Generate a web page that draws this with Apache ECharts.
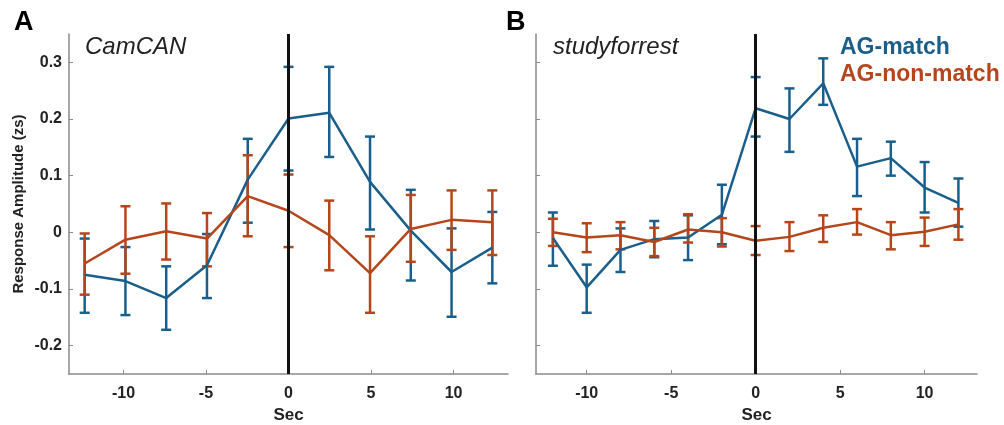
<!DOCTYPE html>
<html>
<head>
<meta charset="utf-8">
<script src="https://cdn.jsdelivr.net/npm/echarts@6/dist/echarts.min.js"></script>
<style>
html,body{margin:0;padding:0;background:#fff;}
#chart{width:1004px;height:425px;}
</style>
</head>
<body>
<div id="chart"></div>
<script>
/* CamCAN (TR 2.47 s) */
var timesA = [-12.35, -9.88, -7.41, -4.94, -2.47, 0, 2.47, 4.94, 7.41, 9.88, 12.35];
var matchA   = [-0.075, -0.086, -0.116, -0.058, 0.093, 0.201, 0.211, 0.089, 0.003, -0.070, -0.027];
var matchAHi = [-0.011, -0.026, -0.060, -0.003, 0.165, 0.292, 0.292, 0.169, 0.075, 0.007, 0.036];
var matchALo = [-0.142, -0.146, -0.172, -0.116, 0.017, 0.109, 0.133, 0.005, -0.085, -0.149, -0.090];
var nonA   = [-0.055, -0.013, 0.002, -0.011, 0.064, 0.038, -0.005, -0.072, 0.006, 0.022, 0.018];
var nonAHi = [-0.002, 0.046, 0.051, 0.034, 0.136, 0.102, 0.056, -0.007, 0.066, 0.074, 0.074];
var nonALo = [-0.110, -0.073, -0.048, -0.060, -0.007, -0.026, -0.067, -0.142, -0.052, -0.031, -0.040];

/* studyforrest (TR 2 s) */
var timesB = [-12, -10, -8, -6, -4, -2, 0, 2, 4, 6, 8, 10, 12];
var matchB   = [-0.010, -0.097, -0.031, -0.012, -0.009, 0.031, 0.219, 0.200, 0.263, 0.116, 0.131, 0.079, 0.052];
var matchBHi = [0.035, -0.057, 0.007, 0.020, 0.030, 0.084, 0.274, 0.254, 0.307, 0.165, 0.160, 0.124, 0.095];
var matchBLo = [-0.059, -0.142, -0.070, -0.044, -0.049, -0.021, 0.169, 0.142, 0.225, 0.064, 0.100, 0.035, 0.010];
var nonB   = [0.000, -0.009, -0.005, -0.017, 0.005, 0.000, -0.015, -0.008, 0.008, 0.018, -0.005, 0.001, 0.014];
var nonBHi = [0.024, 0.016, 0.018, 0.008, 0.032, 0.025, 0.011, 0.018, 0.030, 0.041, 0.018, 0.026, 0.041];
var nonBLo = [-0.024, -0.035, -0.030, -0.042, -0.018, -0.025, -0.040, -0.033, -0.017, -0.004, -0.030, -0.024, -0.013];

var yTicks = [-0.2, -0.1, 0, 0.1, 0.2, 0.3];
var xTicks = [-10, -5, 0, 5, 10];

var BLUE = '#1a5f8c';
var ORANGE = '#b5461b';
var FONT = 'Liberation Sans, Arial, Helvetica, sans-serif';

function zip(xs, ys) {
    return xs.map(function (x, i) { return [x, ys[i]]; });
}
function zip3(xs, lo, hi) {
    return xs.map(function (x, i) { return [x, lo[i], hi[i]]; });
}

// error bar with caps
function renderErr(params, api) {
    var x = api.value(0);
    var lo = api.coord([x, api.value(1)]);
    var hi = api.coord([x, api.value(2)]);
    var cap = 5;
    var st = { stroke: api.visual('color'), lineWidth: 2.5 };
    return {
        type: 'group',
        children: [
            { type: 'line', shape: { x1: lo[0], y1: lo[1], x2: hi[0], y2: hi[1] }, style: st },
            { type: 'line', shape: { x1: hi[0] - cap, y1: hi[1], x2: hi[0] + cap, y2: hi[1] }, style: st },
            { type: 'line', shape: { x1: lo[0] - cap, y1: lo[1], x2: lo[0] + cap, y2: lo[1] }, style: st }
        ]
    };
}

function xAxisOf(idx, min, max) {
    return {
        type: 'value', gridIndex: idx, min: min, max: max,
        name: 'Sec', nameLocation: 'middle', nameGap: 33,
        nameTextStyle: { fontFamily: FONT, fontWeight: 'bold', fontSize: 17, color: '#222' },
        axisLine: { onZero: false, lineStyle: { color: '#8a8a8a', width: 1.5 } },
        axisTick: { inside: true, length: 4, customValues: xTicks, lineStyle: { color: '#8a8a8a' } },
        axisLabel: { customValues: xTicks, margin: 12, fontFamily: FONT, fontWeight: 'bold', fontSize: 16, color: '#222' },
        splitLine: { show: false }
    };
}
function yAxisOf(idx, showLabel) {
    return {
        type: 'value', gridIndex: idx, min: -0.25, max: 0.35,
        name: showLabel ? 'Response Amplitude (zs)' : '',
        nameLocation: 'middle', nameGap: 43,
        nameTextStyle: { fontFamily: FONT, fontWeight: 'bold', fontSize: 15, color: '#222' },
        axisLine: { onZero: false, lineStyle: { color: '#8a8a8a', width: 1.5 } },
        axisTick: { inside: true, length: 4, customValues: yTicks, lineStyle: { color: '#8a8a8a' } },
        axisLabel: { show: showLabel, customValues: yTicks, margin: 7, fontFamily: FONT, fontWeight: 'bold', fontSize: 16, color: '#222' },
        splitLine: { show: false }
    };
}

function lineSeries(name, idx, xs, ys, color) {
    return {
        name: name, type: 'line', xAxisIndex: idx, yAxisIndex: idx,
        data: zip(xs, ys), symbol: 'none', z: 4,
        lineStyle: { color: color, width: 2.5 }, itemStyle: { color: color }
    };
}
function errSeries(name, idx, xs, lo, hi, color) {
    return {
        name: name, type: 'custom', xAxisIndex: idx, yAxisIndex: idx,
        data: zip3(xs, lo, hi), renderItem: renderErr, z: 3,
        itemStyle: { color: color }, encode: { x: 0, y: [1, 2] }
    };
}
function zeroLine(idx) {
    return {
        type: 'line', xAxisIndex: idx, yAxisIndex: idx, data: [], z: 1,
        markLine: {
            silent: true, symbol: 'none', label: { show: false },
            lineStyle: { color: '#111', width: 3, type: 'solid' },
            data: [{ xAxis: 0 }]
        }
    };
}

var option = {
    animation: false,
    backgroundColor: '#fff',
    grid: [
        { left: 69, right: 496, top: 34, bottom: 51, outerBoundsMode: 'none' },
        { left: 536, right: 27, top: 34, bottom: 51, outerBoundsMode: 'none' }
    ],
    xAxis: [xAxisOf(0, -13.3, 13.3), xAxisOf(1, -13, 13.1)],
    yAxis: [yAxisOf(0, true), yAxisOf(1, false)],
    legend: {
        orient: 'vertical', left: 830, top: 31, itemGap: 4,
        icon: 'none', itemWidth: 0, selectedMode: false,
        textStyle: { fontFamily: FONT, fontWeight: 'bold', fontSize: 23 },
        data: [
            { name: 'AG-match', textStyle: { color: BLUE } },
            { name: 'AG-non-match', textStyle: { color: ORANGE } }
        ]
    },
    graphic: [
        { type: 'text', left: 14, top: 9, style: { text: 'A', font: 'bold 27px ' + FONT, fill: '#000' } },
        { type: 'text', left: 506, top: 9, style: { text: 'B', font: 'bold 27px ' + FONT, fill: '#000' } },
        { type: 'text', left: 85, top: 35, style: { text: 'CamCAN', font: 'italic 24px ' + FONT, fill: '#222' } },
        { type: 'text', left: 553, top: 35, style: { text: 'studyforrest', font: 'italic 24px ' + FONT, fill: '#222' } }
    ],
    series: [
        zeroLine(0),
        zeroLine(1),
        errSeries('AG-match', 0, timesA, matchALo, matchAHi, BLUE),
        lineSeries('AG-match', 0, timesA, matchA, BLUE),
        errSeries('AG-non-match', 0, timesA, nonALo, nonAHi, ORANGE),
        lineSeries('AG-non-match', 0, timesA, nonA, ORANGE),
        errSeries('AG-match', 1, timesB, matchBLo, matchBHi, BLUE),
        lineSeries('AG-match', 1, timesB, matchB, BLUE),
        errSeries('AG-non-match', 1, timesB, nonBLo, nonBHi, ORANGE),
        lineSeries('AG-non-match', 1, timesB, nonB, ORANGE)
    ]
};

echarts.init(document.getElementById('chart')).setOption(option);
</script>
</body>
</html>
